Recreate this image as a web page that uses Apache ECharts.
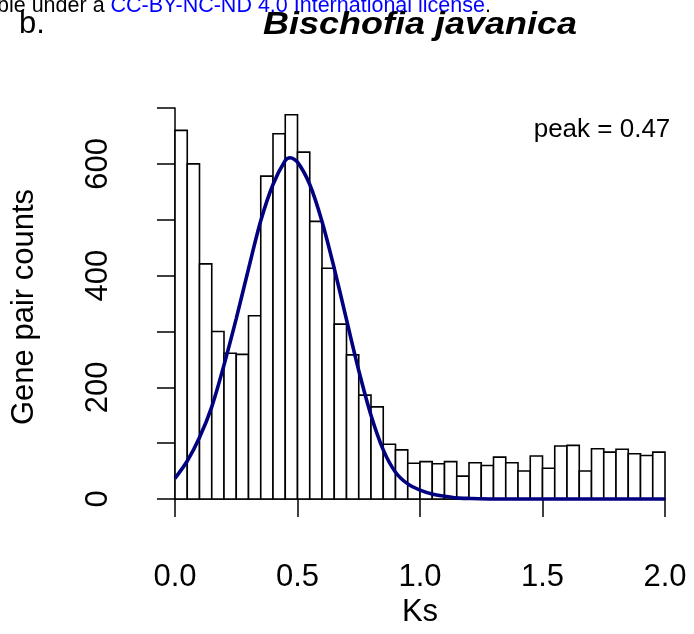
<!DOCTYPE html>
<html>
<head>
<meta charset="utf-8">
<script src="https://cdn.jsdelivr.net/npm/echarts@6/dist/echarts.min.js"></script>
<style>
html,body{margin:0;padding:0;background:#fff;}
#chart{width:694px;height:634px;}
</style>
</head>
<body>
<div id="chart"></div>
<script>
// ---- data ----
var binWidth = 0.05;
var binCounts = [660, 600, 421, 300, 261, 259, 328, 578, 654, 688,
                 621, 497, 413, 313, 258, 186, 165, 98, 88, 64,
                 67, 63, 67, 41, 65, 60, 75, 65, 50, 77,
                 55, 95, 96, 50, 90, 84, 89, 81, 78, 84];
var curveX = [0, 0.05, 0.10, 0.15, 0.20, 0.25, 0.30, 0.35, 0.40, 0.45, 0.47, 0.50, 0.55, 0.60, 0.65, 0.70, 0.75, 0.80, 0.85, 0.90, 0.95, 1.00, 1.05, 1.10, 1.15, 1.20, 1.30, 1.40, 1.60, 1.80, 2.00];
var curveY = [37, 68, 110, 165, 240, 323, 412, 498, 563, 606, 611, 603, 563, 497, 413, 321, 230, 150, 88, 48, 27, 16, 9, 5, 2, 1, 0, 0, 0, 0, 0];
var xTicks = [0, 0.5, 1.0, 1.5, 2.0];
var yLabelValues = [0, 200, 400, 600];
var titleText = 'Bischofia javanica';
var panelLabel = 'b.';
var xName = 'Ks';
var yName = 'Gene pair counts';
var peakText = 'peak = 0.47';

// ---- build ----
var histData = binCounts.map(function (c, i) {
  return [i * binWidth, (i + 1) * binWidth, c];
});
var curveData = curveX.map(function (x, i) { return [x, curveY[i]]; });

var FONT = '"Liberation Sans", Arial, Helvetica, sans-serif';
var chart = echarts.init(document.getElementById('chart'), null, {renderer: 'canvas'});
chart.setOption({
  animation: false,
  backgroundColor: '#ffffff',
  grid: {left: 175, right: 29, top: 108, bottom: 135},
  xAxis: {
    type: 'value', min: 0, max: 2, interval: 0.5, offset: 16,
    axisLine: {show: true, lineStyle: {color: '#000', width: 1.5}},
    axisTick: {show: true, length: 18, lineStyle: {color: '#000', width: 1.5}},
    axisLabel: {
      fontSize: 31, color: '#000', fontFamily: FONT, margin: 47,
      formatter: function (v) { return xTicks.indexOf(v) >= 0 ? v.toFixed(1) : ''; }
    },
    splitLine: {show: false}
  },
  yAxis: {
    type: 'value', min: 0, max: 700, interval: 100, offset: 21,
    axisLine: {show: true, lineStyle: {color: '#000', width: 1.5}},
    axisTick: {show: true, length: 18, lineStyle: {color: '#000', width: 1.5}},
    axisLabel: {
      rotate: 90, fontSize: 31, color: '#000', fontFamily: FONT, margin: 40,
      formatter: function (v) { return yLabelValues.indexOf(v) >= 0 ? String(v) : ''; }
    },
    splitLine: {show: false}
  },
  series: [
    {
      type: 'custom',
      data: histData,
      encode: {x: [0, 1], y: 2},
      renderItem: function (params, api) {
        var p0 = api.coord([api.value(0), api.value(2)]);
        var p1 = api.coord([api.value(1), 0]);
        return {
          type: 'rect',
          shape: {x: p0[0], y: p0[1], width: p1[0] - p0[0], height: p1[1] - p0[1]},
          style: {fill: '#ffffff', stroke: '#000000', lineWidth: 1.6}
        };
      },
      z: 2
    },
    {
      type: 'line',
      data: curveData,
      smooth: 0.3,
      showSymbol: false,
      clip: false,
      lineStyle: {color: '#000080', width: 3.6},
      z: 3
    }
  ],
  graphic: [
    {type: 'text', left: -3, top: -5, style: {
      text: '{k|ble under a }{b|CC-BY-NC-ND 4.0 International license}{k|.}',
      rich: {
        k: {fontSize: 21.5, fontFamily: FONT, fill: '#000'},
        b: {fontSize: 21.5, fontFamily: FONT, fill: '#0000ff'}
      }
    }, z: 10},
    {type: 'text', x: 420, y: 26, scaleX: 1.24, scaleY: 1.05, style: {
      text: titleText, fontSize: 29, fontWeight: 'bold', fontStyle: 'italic', fontFamily: FONT,
      fill: '#000', textAlign: 'center', textVerticalAlign: 'middle'
    }, z: 10},
    {type: 'text', x: 19, y: 24, style: {
      text: panelLabel, fontSize: 31, fontFamily: FONT, fill: '#000',
      textAlign: 'left', textVerticalAlign: 'middle'
    }},
    {type: 'text', x: 602, y: 130, style: {
      text: peakText, fontSize: 26, fontFamily: FONT, fill: '#000',
      textAlign: 'center', textVerticalAlign: 'middle'
    }},
    {type: 'text', x: 420, y: 612, style: {
      text: xName, fontSize: 31, fontFamily: FONT, fill: '#000',
      textAlign: 'center', textVerticalAlign: 'middle'
    }},
    {type: 'text', x: 24, y: 307, rotation: Math.PI / 2, style: {
      text: yName, fontSize: 31, fontFamily: FONT, fill: '#000',
      textAlign: 'center', textVerticalAlign: 'middle'
    }}
  ]
});
</script>
</body>
</html>
